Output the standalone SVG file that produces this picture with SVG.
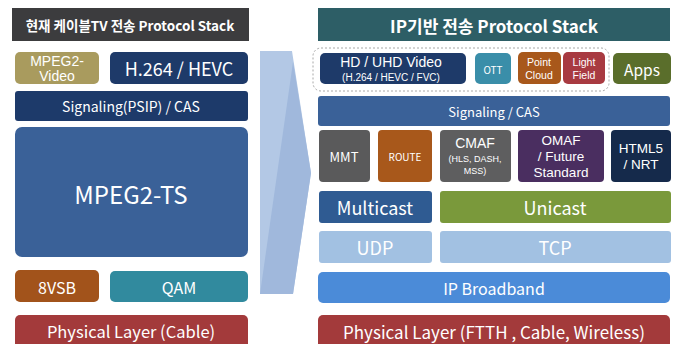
<svg xmlns="http://www.w3.org/2000/svg" width="679" height="344" viewBox="0 0 679 344">
  <style>
    text { font-family: "Noto Sans CJK KR", "Noto Sans", sans-serif; text-anchor: middle; dominant-baseline: central; fill: #ffffff; }
    .title { font-weight: bold; }
    /* stacked labels use a font with a tighter line box */
    .stack { font-family: "Liberation Sans", Arial, sans-serif; }
  </style>
  <rect width="679" height="344" fill="#ffffff"/>

  <!-- legacy cable stack -->
  <g id="cable-title"><rect x="12" y="8" width="237" height="33" fill="#3c3c3e"/><text class="title" x="130" y="25" font-size="13.5">현재 케이블TV 전송 Protocol Stack</text></g>
  <g id="mpeg2-video"><rect x="15" y="52" width="84" height="32" rx="5" fill="#a99b5e"/><text class="stack" font-size="14" fill="#ece3bd"><tspan x="57" y="60.5">MPEG2-</tspan><tspan x="57" y="76">Video</tspan></text></g>
  <g id="h264-hevc"><rect x="110" y="52" width="138" height="32" rx="5" fill="#1e3a69"/><text x="179" y="68" font-size="18">H.264 / HEVC</text></g>
  <g id="signaling-psip"><rect x="15" y="91" width="233" height="30" rx="3" fill="#1d3a6a"/><text x="131" y="106" font-size="14">Signaling(PSIP) / CAS</text></g>
  <g id="mpeg2-ts"><rect x="15" y="127" width="233" height="130" rx="7" fill="#3a6198"/><text x="131" y="193" font-size="24">MPEG2-TS</text></g>
  <g id="vsb"><rect x="15" y="270" width="84" height="32" rx="5" fill="#a2531b"/><text x="57" y="287" font-size="16" fill="#f6d3a6">8VSB</text></g>
  <g id="qam"><rect x="110" y="271" width="138" height="31" rx="5" fill="#318a9e"/><text x="179" y="287" font-size="16">QAM</text></g>
  <g id="phy-cable"><rect x="15" y="315" width="233" height="36" rx="5" fill="#a33a3b"/><text x="131" y="331" font-size="16.5">Physical Layer (Cable)</text></g>

  <!-- transition arrow -->
  <g id="connectors">
    <polygon points="260,51 292,51 311,173 293,294 260,294" fill="#b3c8e5"/>
    <polygon points="293,62 311,173 293,294 260,294" fill="#a0b8dc"/>
  </g>

  <!-- IP based stack -->
  <g id="ip-title"><rect x="318" y="8" width="352" height="33" fill="#2d5e66"/><text class="title" x="494" y="25" font-size="17">IP기반 전송 Protocol Stack</text></g>
  <g id="media-group"><rect x="313" y="48" width="296" height="43" rx="8" fill="none" stroke="#a8a8a8" stroke-width="1" stroke-dasharray="2,2"/></g>
  <g id="hd-uhd"><rect x="320" y="53" width="146" height="31" rx="5" fill="#1e3a69"/><text class="stack"><tspan x="391" y="62" font-size="14">HD / UHD Video</tspan><tspan x="391" y="77" font-size="10">(H.264 / HEVC / FVC)</tspan></text></g>
  <g id="ott"><rect x="475" y="53" width="36" height="31" rx="5" fill="#3a8ea9"/><text x="493" y="69" font-size="10">OTT</text></g>
  <g id="point-cloud"><rect x="518" y="52" width="43" height="32" rx="5" fill="#a8581b"/><text class="stack" font-size="10.5" fill="#f6d3a6"><tspan x="539" y="62">Point</tspan><tspan x="539" y="75">Cloud</tspan></text></g>
  <g id="light-field"><rect x="563" y="52" width="42" height="32" rx="5" fill="#a83a41"/><text class="stack" font-size="10.5" fill="#f6cccc"><tspan x="584" y="62">Light</tspan><tspan x="584" y="75">Field</tspan></text></g>
  <g id="apps"><rect x="613" y="53" width="58" height="31" rx="5" fill="#5a6e2b"/><text x="642" y="69" font-size="15.5">Apps</text></g>
  <g id="signaling-cas"><rect x="318" y="96" width="352" height="30" rx="3" fill="#3a6198"/><text x="494" y="111" font-size="13">Signaling / CAS</text></g>
  <g id="mmt"><rect x="319" y="130" width="51" height="52" rx="4" fill="#5a5a5b"/><text x="344" y="156" font-size="13">MMT</text></g>
  <g id="route"><rect x="378" y="130" width="54" height="52" rx="4" fill="#a8581b"/><text x="405" y="156" font-size="10" fill="#f6d3a6">ROUTE</text></g>
  <g id="cmaf"><rect x="440" y="130" width="71" height="52" rx="4" fill="#5e5e5f"/><text class="stack"><tspan x="475" y="143" font-size="14">CMAF</tspan><tspan x="475" y="159" font-size="9">(HLS, DASH,</tspan><tspan x="475" y="171" font-size="9">MSS)</tspan></text></g>
  <g id="omaf"><rect x="518" y="130" width="86" height="52" rx="4" fill="#4a2e60"/><text class="stack" font-size="13.5"><tspan x="561" y="140">OMAF</tspan><tspan x="561" y="156">/ Future</tspan><tspan x="561" y="172">Standard</tspan></text></g>
  <g id="html5"><rect x="611" y="130" width="60" height="52" rx="4" fill="#152a4b"/><text class="stack" font-size="13.5"><tspan x="641" y="148">HTML5</tspan><tspan x="641" y="164">/ NRT</tspan></text></g>
  <g id="multicast"><rect x="319" y="191" width="113" height="32" rx="3" fill="#2f5b92"/><text x="375" y="207" font-size="18">Multicast</text></g>
  <g id="unicast"><rect x="440" y="191" width="231" height="32" rx="3" fill="#7a993b"/><text x="555" y="207" font-size="18">Unicast</text></g>
  <g id="udp"><rect x="319" y="231" width="113" height="32" rx="3" fill="#a2c1e2"/><text x="375" y="247" font-size="18">UDP</text></g>
  <g id="tcp"><rect x="440" y="231" width="231" height="32" rx="3" fill="#a2c1e2"/><text x="555" y="247" font-size="18">TCP</text></g>
  <g id="ip-broadband"><rect x="318" y="272" width="352" height="31" rx="5" fill="#4b8bd8"/><text x="494" y="288" font-size="16">IP Broadband</text></g>
  <g id="phy-ip"><rect x="318" y="315" width="352" height="36" rx="5" fill="#a33a3b"/><text x="494" y="331" font-size="17">Physical Layer (FTTH , Cable, Wireless)</text></g>
</svg>
